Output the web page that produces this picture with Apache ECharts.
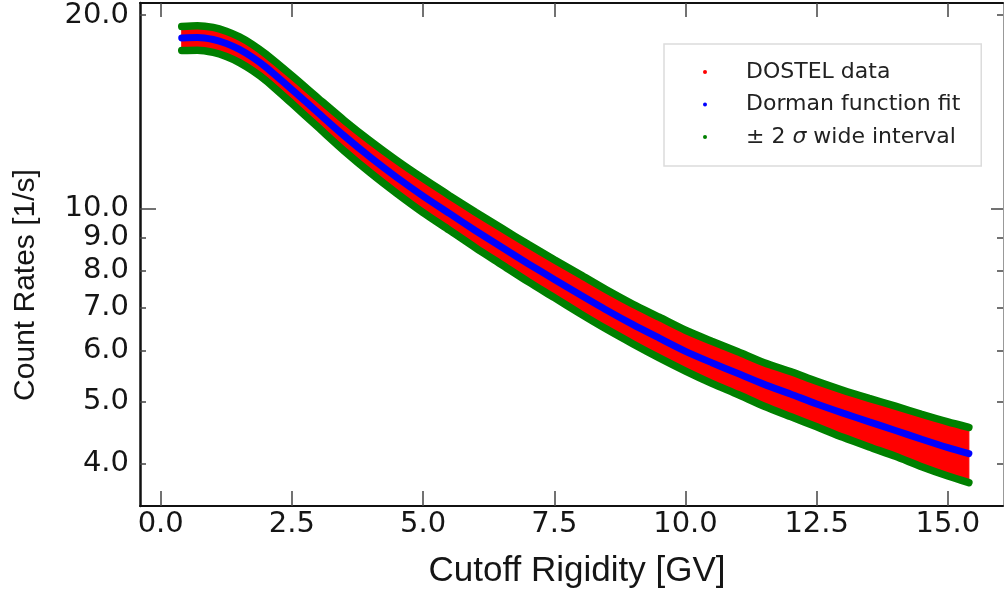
<!DOCTYPE html>
<html><head><meta charset="utf-8">
<script src="https://cdn.jsdelivr.net/npm/echarts@6/dist/echarts.min.js"></script>
<style>html,body{margin:0;padding:0;background:#fff}#c{width:1008px;height:596px}</style>
</head><body><div id="c"></div>
<script>
// Cutoff rigidity [GV] sample positions
const rigidity = [0.4,0.7,1.0,1.25,1.5,1.75,2.0,2.5,3.0,3.5,4.0,4.5,5.0,5.5,6.0,6.5,7.0,7.5,8.0,8.5,9.0,9.5,10.0,10.5,11.0,11.5,12.0,12.5,13.0,13.5,14.0,14.5,15.0,15.4];
// Dorman function fit [1/s]
const dormanFit = [18.42,18.45,18.32,18.06,17.68,17.18,16.60,15.31,14.08,12.96,12.00,11.17,10.45,9.82,9.23,8.70,8.20,7.75,7.33,6.94,6.59,6.28,5.99,5.75,5.53,5.32,5.14,4.96,4.80,4.65,4.51,4.37,4.24,4.15];
// +2 sigma and -2 sigma curves
const sigmaUpper = [19.20,19.25,19.13,18.87,18.49,17.99,17.39,16.09,14.84,13.70,12.72,11.87,11.13,10.47,9.86,9.31,8.79,8.32,7.88,7.46,7.09,6.77,6.46,6.21,5.98,5.75,5.57,5.38,5.21,5.06,4.92,4.78,4.65,4.56];
const sigmaLower = [17.61,17.63,17.49,17.23,16.86,16.38,15.82,14.56,13.37,12.28,11.35,10.55,9.85,9.25,8.68,8.17,7.69,7.26,6.85,6.48,6.15,5.85,5.58,5.34,5.13,4.92,4.74,4.57,4.40,4.25,4.11,3.96,3.83,3.74];
// envelope of the DOSTEL data cloud
const dostelHigh = [19.20,19.25,19.13,18.87,18.49,17.99,17.39,16.09,14.84,13.70,12.72,11.87,11.13,10.47,9.86,9.31,8.79,8.32,7.88,7.46,7.09,6.77,6.46,6.21,5.98,5.75,5.57,5.38,5.21,5.06,4.92,4.78,4.65,4.56];
const dostelLow = [17.61,17.63,17.49,17.23,16.86,16.38,15.82,14.56,13.37,12.28,11.35,10.55,9.85,9.25,8.68,8.17,7.69,7.26,6.85,6.48,6.15,5.85,5.58,5.34,5.13,4.92,4.74,4.57,4.40,4.25,4.11,3.96,3.83,3.74];

const xTicks = [0, 2.5, 5, 7.5, 10, 12.5, 15];
const yLabels = [4, 5, 6, 7, 8, 9, 10, 20];
const yMinorTicks = [4, 5, 6, 7, 8, 9, 20];
const yMajorTicks = [10];

const X_MIN = -0.395, X_MAX = 16.05, Y_MIN = 3.44, Y_MAX = 20.88;
const tickColor = '#444';

function xAxisCfg(pos, showLabel, len) {
  return {
    type: 'value', position: pos, min: X_MIN, max: X_MAX,
    axisLine: {show: true, onZero: false, lineStyle: {color: '#111', width: 2}},
    axisTick: {show: true, inside: true, length: len, customValues: xTicks, lineStyle: {color: tickColor, width: 1.5}},
    axisLabel: showLabel ? {show: true, customValues: xTicks, formatter: v => Number(v).toFixed(1),
      fontFamily: 'DejaVu Sans', fontSize: 29, color: '#151515', margin: 4} : {show: false},
    splitLine: {show: false}
  };
}
function yAxisCfg(pos, lineShow, lineColor, ticks, len, showLabel) {
  return {
    type: 'log', logBase: 10, position: pos, min: Y_MIN, max: Y_MAX,
    axisLine: {show: lineShow, onZero: false, lineStyle: {color: lineColor, width: pos === 'left' ? 2.5 : 1}},
    axisTick: {show: true, inside: true, length: len, customValues: ticks, lineStyle: {color: tickColor, width: 1.5}},
    axisLabel: showLabel ? {show: true, customValues: yLabels, formatter: v => Number(v).toFixed(1),
      fontFamily: 'DejaVu Sans', fontSize: 29, color: '#151515', margin: 11} : {show: false},
    splitLine: {show: false}, minorTick: {show: false}
  };
}

const bottomX = xAxisCfg('bottom', true, 15);
bottomX.name = 'Cutoff Rigidity [GV]';
bottomX.nameLocation = 'middle';
bottomX.nameGap = 48;
bottomX.nameTextStyle = {fontFamily: 'Liberation Sans', fontSize: 35, color: '#151515', padding: [0, 0, 0, 11]};

const pair = (xs, ys) => xs.map((x, i) => [x, ys[i]]);

const chart = echarts.init(document.getElementById('c'));
chart.setOption({
  animation: false,
  backgroundColor: '#fff',
  grid: {left: 140, right: 5, top: 3, bottom: 90, containLabel: false, outerBoundsMode: 'none'},
  xAxis: [bottomX, xAxisCfg('top', false, 14)],
  yAxis: [
    yAxisCfg('left', true, '#111', yMinorTicks, 6, true),
    yAxisCfg('left', false, '#111', yMajorTicks, 16, false),
    yAxisCfg('right', true, '#999', yMinorTicks, 6, false),
    yAxisCfg('right', false, '#999', yMajorTicks, 12, false)
  ],
  legend: {
    left: 664, top: 44, orient: 'vertical', icon: 'circle', itemWidth: 4, itemHeight: 4, itemGap: 10.5,
    padding: [17, 21, 18, 39], borderColor: '#dcdcdc', borderWidth: 1.5, backgroundColor: '#fff',
    selectedMode: false,
    formatter: n => n.replace('σ', '{s|σ}'),
    textStyle: {fontFamily: 'DejaVu Sans', fontSize: 22, lineHeight: 22, color: '#222', padding: [0, 0, 0, 34],
      rich: {s: {fontFamily: 'DejaVu Sans', fontStyle: 'italic', fontSize: 22, lineHeight: 22, color: '#222'}}},
    data: ['DOSTEL data', 'Dorman function fit', '± 2 σ wide interval']
  },
  graphic: [{
    type: 'text', x: 26, y: 285, rotation: Math.PI / 2, z: 10,
    style: {text: 'Count Rates [1/s]', font: '30px "Liberation Sans"', fill: '#151515',
      textAlign: 'center', textVerticalAlign: 'middle', align: 'center', verticalAlign: 'middle'}
  }],
  series: [
    {
      type: 'custom', name: 'DOSTEL data', coordinateSystem: 'cartesian2d', xAxisIndex: 0, yAxisIndex: 0,
      itemStyle: {color: '#ff0000'}, z: 1, silent: true,
      data: rigidity.map((x, i) => [x, dostelHigh[i], dostelLow[i]]),
      encode: {x: 0, y: [1, 2]},
      renderItem: (params, api) => {
        if (params.dataIndexInside !== 0) return null;
        const pts = [];
        for (let i = 0; i < rigidity.length; i++) pts.push(api.coord([rigidity[i], dostelHigh[i]]));
        for (let i = rigidity.length - 1; i >= 0; i--) pts.push(api.coord([rigidity[i], dostelLow[i]]));
        return {type: 'polygon', shape: {points: pts, smooth: 0}, style: {fill: '#ff0000', stroke: '#ff0000', lineWidth: 1}};
      }
    },
    {
      type: 'line', name: '± 2 σ wide interval', data: pair(rigidity, sigmaUpper), smooth: 0.25,
      showSymbol: false, color: '#008000', lineStyle: {color: '#008000', width: 7.5, cap: 'round'}, z: 3, silent: true
    },
    {
      type: 'line', name: '± 2 σ wide interval', data: pair(rigidity, sigmaLower), smooth: 0.25,
      showSymbol: false, color: '#008000', lineStyle: {color: '#008000', width: 7.5, cap: 'round'}, z: 3, silent: true
    },
    {
      type: 'line', name: 'Dorman function fit', data: pair(rigidity, dormanFit), smooth: 0.25,
      showSymbol: false, color: '#0000ff', lineStyle: {color: '#0000ff', width: 7, cap: 'round'}, z: 4, silent: true
    }
  ]
});
</script></body></html>
